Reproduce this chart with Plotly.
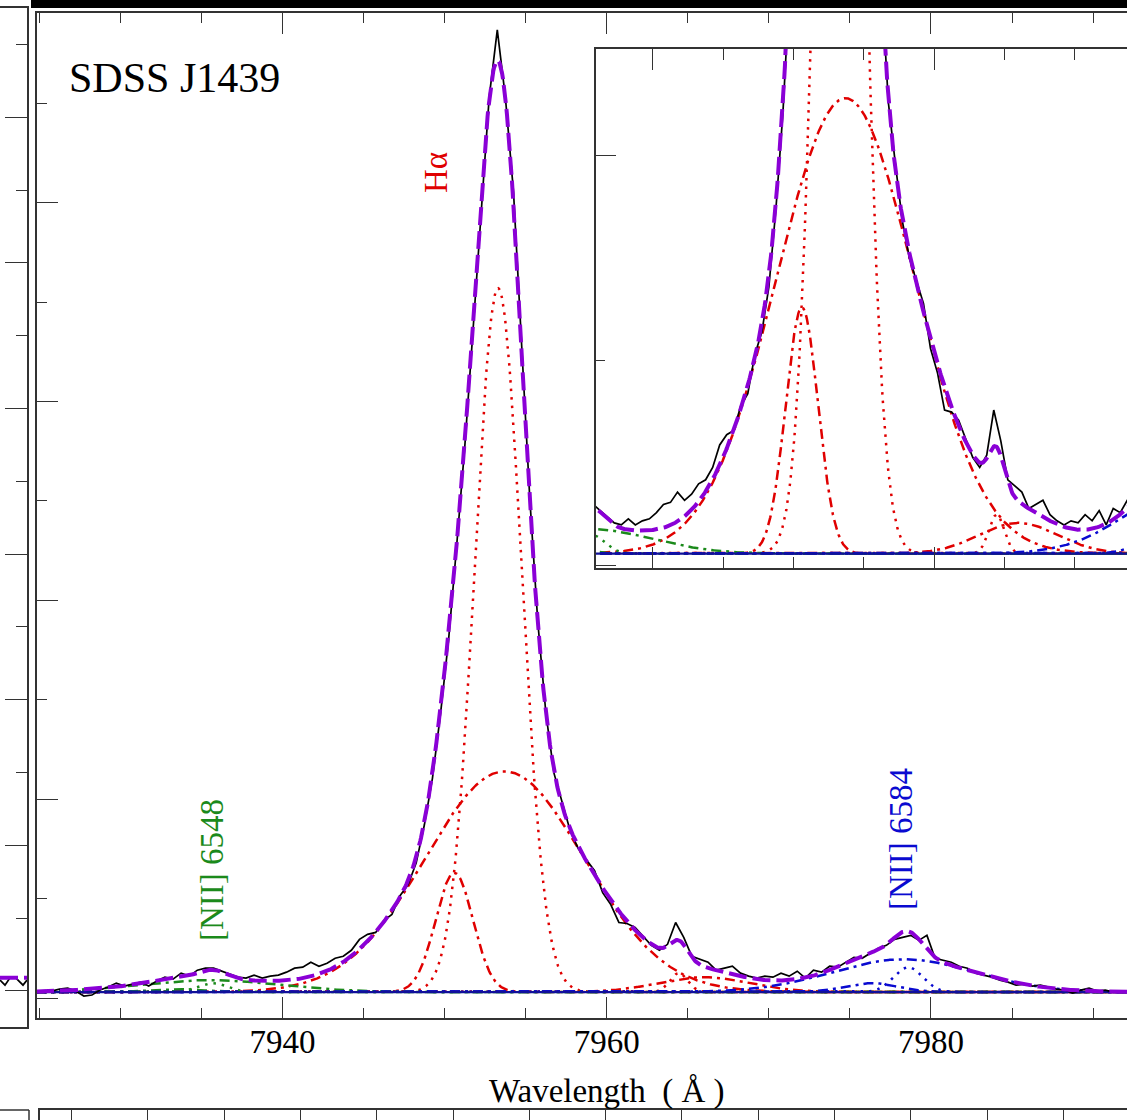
import numpy as np
import plotly.graph_objects as go

# ---------------- data ----------------
# observed spectrum: continuum-subtracted flux, sampled every 0.5 A from 7925.25 A
obs_start = 7925.25
obs_step = 0.5
obs_flux = [
    0.00, 0.01, 0.03, 0.04, 0.01, -0.04, -0.03, 0.02, 0.05, 0.09,
    0.06, 0.08, 0.10, 0.06, 0.11, 0.15, 0.13, 0.19, 0.16, 0.22,
    0.24, 0.24, 0.21, 0.18, 0.15, 0.14, 0.17, 0.14, 0.16, 0.17,
    0.20, 0.24, 0.25, 0.30, 0.26, 0.29, 0.34, 0.36, 0.42, 0.53,
    0.58, 0.60, 0.72, 0.78, 0.97, 1.08, 1.30, 1.68, 2.15, 2.80,
    3.55, 4.50, 5.50, 6.65, 7.85, 9.00, 9.68, 9.00, 8.05, 6.45,
    4.98, 3.72, 2.80, 2.20, 1.90, 1.62, 1.44, 1.33, 1.22, 1.00,
    0.88, 0.70, 0.69, 0.65, 0.56, 0.47, 0.42, 0.48, 0.70, 0.55,
    0.36, 0.33, 0.30, 0.22, 0.24, 0.26, 0.19, 0.16, 0.14, 0.16,
    0.15, 0.19, 0.16, 0.21, 0.14, 0.22, 0.20, 0.26, 0.25, 0.30,
    0.35, 0.34, 0.39, 0.44, 0.47, 0.53, 0.55, 0.57, 0.52, 0.57,
    0.34, 0.32, 0.30, 0.26, 0.24, 0.19, 0.17, 0.15, 0.12, 0.10,
    0.07, 0.08, 0.06, 0.07, 0.05, 0.03, 0.02, -0.01, 0.02, 0.04,
    0.01, 0.02, 0.00, 0.01, 0.00,
]
continuum = 0.06

# Gaussian fit components: (centre A, amplitude, sigma A)
ha_core = (7953.3, 7.08, 1.44)
ha_broad = (7953.7, 2.22, 4.9)
ha_inner = (7950.6, 1.20, 1.15)
ha_bump_narrow = (7964.45, 0.19, 0.55)
ha_bump_broad = (7966.0, 0.15, 2.8)
n84_narrow = (7978.6, 0.25, 0.9)
n84_broad = (7978.3, 0.33, 4.4)
n84_inner = (7976.3, 0.09, 1.6)
n48_narrow = (7935.7, 0.09, 0.9)
n48_broad = (7935.5, 0.12, 4.4)
n48_inner = (7933.4, 0.03, 1.6)

# neighbouring panel fragment (left) : flux in its own units
left_x = [0, 5, 10, 15, 18, 23, 27]
left_flux = [0.15, 0.08, 0.18, 0.19, 0.15, 0.08, 0.15]
left_fit = [0.18, 0.18, 0.18, 0.18, 0.18, 0.18, 0.18]

labels = ["Hα", "[NII] 6548", "[NII] 6584"]

# ---------------- figure ----------------
W, H = 1127, 1120
def px(x):
    return x / W
def py(y):
    return 1 - y / H

obs_wl = obs_start + obs_step * np.arange(len(obs_flux))
obs_y = np.array(obs_flux) + continuum
grid = np.arange(7924.8, 7992.2, 0.05)

def gauss(p):
    c, a, s = p
    return a * np.exp(-(grid - c) ** 2 / (2 * s * s))

RED = "#e00000"
GREEN = "#1b8a1b"
BLUE = "#0a0ad0"
PURPLE = "#8a00d6"
DOT = "2.5px,6px"
DASHDOT = "10px,5px,3px,5px"

comps = [
    (ha_core, RED, DOT),
    (ha_broad, RED, DASHDOT),
    (ha_inner, RED, DASHDOT),
    (ha_bump_narrow, RED, DOT),
    (ha_bump_broad, RED, DASHDOT),
    (n48_narrow, GREEN, DOT),
    (n48_broad, GREEN, DASHDOT),
    (n48_inner, GREEN, DASHDOT),
    (n84_narrow, BLUE, DOT),
    (n84_broad, BLUE, DASHDOT),
    (n84_inner, BLUE, DASHDOT),
]
total = continuum + sum(gauss(p) for p, _, _ in comps)

fig = go.Figure()
for xa, ya in (("x", "y"), ("x2", "y2")):
    for p, col, dash in comps:
        fig.add_trace(go.Scatter(x=grid, y=continuum + gauss(p), mode="lines",
                                 line=dict(color=col, width=2.5, dash=dash),
                                 xaxis=xa, yaxis=ya, hoverinfo="skip"))
    fig.add_trace(go.Scatter(x=[grid[0], grid[-1]], y=[continuum, continuum], mode="lines",
                             line=dict(color="#10109a", width=2.2), xaxis=xa, yaxis=ya))
    fig.add_trace(go.Scatter(x=obs_wl, y=obs_y, mode="lines",
                             line=dict(color="black", width=1.7), xaxis=xa, yaxis=ya))
    fig.add_trace(go.Scatter(x=grid, y=total, mode="lines",
                             line=dict(color=PURPLE, width=4, dash="18px,6px"),
                             xaxis=xa, yaxis=ya))

# left neighbouring panel
fig.add_trace(go.Scatter(x=left_x, y=left_flux, mode="lines", line=dict(color="black", width=1.7),
                         xaxis="x3", yaxis="y3"))
fig.add_trace(go.Scatter(x=left_x, y=left_fit, mode="lines",
                         line=dict(color=PURPLE, width=4, dash="18px,6px"),
                         xaxis="x3", yaxis="y3"))
# bottom neighbouring panel (empty)
fig.add_trace(go.Scatter(x=[], y=[], xaxis="x4", yaxis="y4"))

AX = "#333333"
font_ticks = dict(family="Liberation Serif", size=33, color="black")

fig.update_layout(
    width=W, height=H, margin=dict(l=0, r=0, t=0, b=0),
    paper_bgcolor="white", plot_bgcolor="white", showlegend=False,
    xaxis=dict(domain=[px(37), 1.0], range=[7924.86, 7992.09], anchor="y",
               showline=True, linecolor=AX, linewidth=1.5, mirror="ticks",
               ticks="inside", ticklen=21, tickwidth=1.3, tickcolor=AX,
               tick0=7900, dtick=20, showgrid=False, zeroline=False,
               tickfont=font_ticks, ticklabelstandoff=-6,
               minor=dict(dtick=5, ticks="inside", ticklen=10, tickwidth=1.3, tickcolor=AX)),
    yaxis=dict(domain=[py(1018), py(13)], range=[-0.201, 9.909], anchor="x",
               showline=True, linecolor=AX, linewidth=1.5, mirror=False,
               ticks="inside", ticklen=21, tickwidth=1.3, tickcolor=AX,
               tick0=0, dtick=2, showticklabels=False, showgrid=False, zeroline=False,
               minor=dict(dtick=1, ticks="inside", ticklen=10, tickwidth=1.3, tickcolor=AX)),
    xaxis2=dict(domain=[px(596), 1.0], range=[7935.95, 7973.73], anchor="y2",
                showline=True, linecolor=AX, linewidth=1.5, mirror="ticks",
                ticks="inside", ticklen=21, tickwidth=1.3, tickcolor=AX,
                tick0=7900, dtick=20, showticklabels=False, showgrid=False, zeroline=False,
                minor=dict(dtick=5, ticks="inside", ticklen=11, tickwidth=1.3, tickcolor=AX)),
    yaxis2=dict(domain=[py(568), py(49)], range=[-0.01, 2.52], anchor="x2",
                showline=True, linecolor=AX, linewidth=1.5, mirror=False,
                ticks="inside", ticklen=20, tickwidth=1.3, tickcolor=AX,
                tick0=0, dtick=2, showticklabels=False, showgrid=False, zeroline=False,
                minor=dict(dtick=1, ticks="inside", ticklen=9, tickwidth=1.3, tickcolor=AX)),
    xaxis3=dict(domain=[0, px(27)], range=[0, 27], anchor="y3",
                showline=True, linecolor=AX, linewidth=1.5, mirror=True,
                ticks="", showticklabels=False, showgrid=False, zeroline=False),
    yaxis3=dict(domain=[py(1027), py(8)], range=[-0.495, 13.5], anchor="x3", side="right",
                showline=True, linecolor=AX, linewidth=1.5, mirror=False,
                ticks="inside", ticklen=22, tickwidth=1.3, tickcolor=AX,
                tick0=0, dtick=2, showticklabels=False, showgrid=False, zeroline=False,
                minor=dict(dtick=1, ticks="inside", ticklen=11, tickwidth=1.3, tickcolor=AX)),
    xaxis4=dict(domain=[px(40), 1.0], range=[0, (W - 40) / 76.3], anchor="y4", side="top",
                showline=True, linecolor=AX, linewidth=1.5,
                ticks="inside", ticklen=10, tickwidth=1.3, tickcolor=AX,
                tick0=(71.5 - 40) / 76.3, dtick=1, showticklabels=False,
                showgrid=False, zeroline=False),
    yaxis4=dict(domain=[0, py(1110)], range=[0, 1], anchor="x4",
                showline=True, linecolor=AX, linewidth=1.5,
                ticks="", showticklabels=False, showgrid=False, zeroline=False),
)

# top black bar and bottom-left panel corner
fig.add_shape(type="rect", xref="paper", yref="paper", x0=px(31), x1=1.0, y0=py(8), y1=1.0,
              fillcolor="black", line=dict(width=0), layer="above")
fig.add_shape(type="line", xref="paper", yref="paper", x0=0, x1=px(29), y0=py(1110), y1=py(1110),
              line=dict(color=AX, width=1.5))
fig.add_shape(type="line", xref="paper", yref="paper", x0=px(29), x1=px(29), y0=py(1110), y1=0,
              line=dict(color=AX, width=1.5))

serif = "Liberation Serif"
fig.add_annotation(x=px(67), y=py(78), xref="paper", yref="paper", xanchor="left", yanchor="middle",
                   text="SDSS J1439", showarrow=False, font=dict(family=serif, size=42, color="black"))
fig.add_annotation(x=px(436), y=py(173), xref="paper", yref="paper", text=labels[0], textangle=-90,
                   xanchor="center", yanchor="middle",
                   showarrow=False, font=dict(family=serif, size=33, color=RED))
fig.add_annotation(x=px(212), y=py(870), xref="paper", yref="paper", text=labels[1], textangle=-90,
                   xanchor="center", yanchor="middle",
                   showarrow=False, font=dict(family=serif, size=33, color=GREEN))
fig.add_annotation(x=px(901), y=py(839), xref="paper", yref="paper", text=labels[2], textangle=-90,
                   xanchor="center", yanchor="middle",
                   showarrow=False, font=dict(family=serif, size=33, color=BLUE))
fig.add_annotation(x=px(607), y=py(1091), xref="paper", yref="paper", xanchor="center", yanchor="middle",
                   text="Wavelength  ( Å )", showarrow=False,
                   font=dict(family=serif, size=33, color="black"))

fig.write_html("out.html", config={"displayModeBar": False},
               post_script="document.body.style.margin='0px';document.body.style.overflow='hidden';")
